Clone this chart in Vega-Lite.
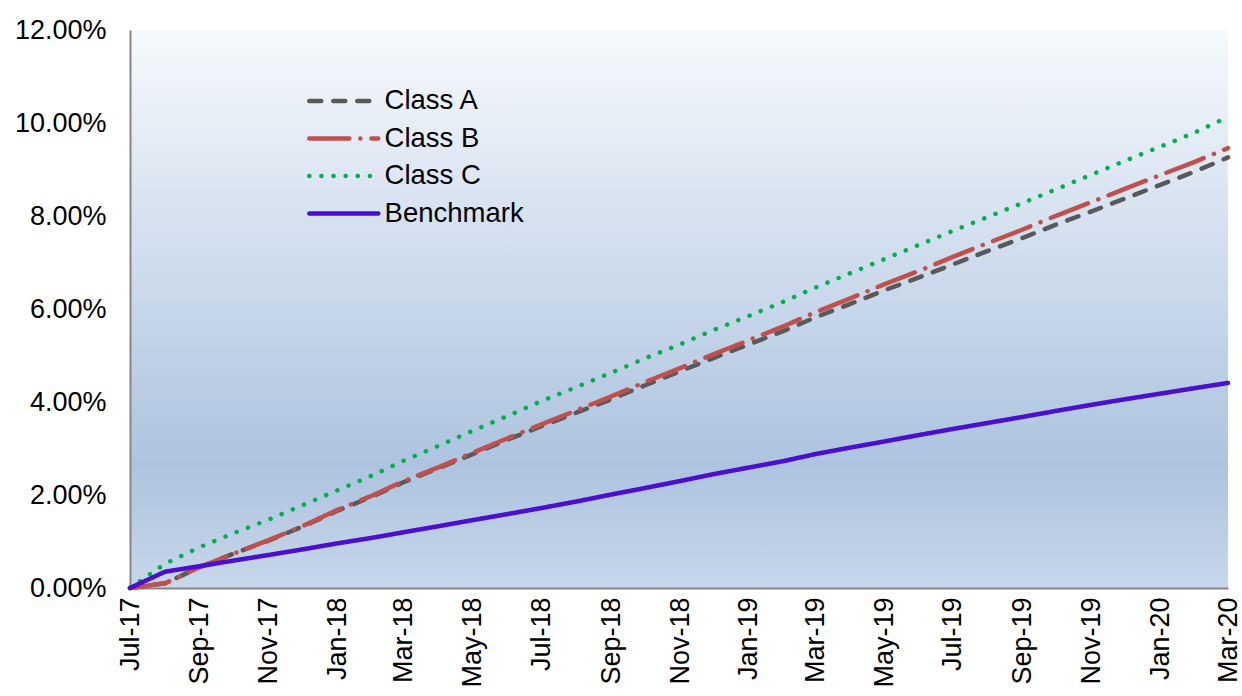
{
  "$schema": "https://vega.github.io/schema/vega-lite/v6.json",
  "width": 1098,
  "height": 558,
  "autosize": "none",
  "padding": {"left": 130, "top": 30, "right": 14, "bottom": 108},
  "background": "white",
  "config": {
    "font": "Liberation Sans",
    "view": {
      "stroke": null,
      "fill": {
        "gradient": "linear", "x1": 0, "y1": 0, "x2": 0, "y2": 1,
        "stops": [
          {"offset": 0, "color": "#f6f9fc"},
          {"offset": 0.78, "color": "#adc3df"},
          {"offset": 1, "color": "#c8d7ea"}
        ]
      }
    },
    "axis": {
      "domainColor": "#868686", "domainWidth": 2, "ticks": false, "grid": false,
      "labelFont": "Liberation Sans", "labelFontSize": 27, "labelColor": "#000000", "title": null
    }
  },
  "datasets": {
    "series": [
      {"date":"2017-07-01","s":"Class A","v":0},{"date":"2017-08-01","s":"Class A","v":0.0010},{"date":"2017-09-01","s":"Class A","v":0.0045},{"date":"2017-10-01","s":"Class A","v":0.0074},{"date":"2017-11-01","s":"Class A","v":0.0102},{"date":"2017-12-01","s":"Class A","v":0.0132},{"date":"2018-01-01","s":"Class A","v":0.0166},{"date":"2018-02-01","s":"Class A","v":0.0197},{"date":"2018-03-01","s":"Class A","v":0.0228},{"date":"2018-04-01","s":"Class A","v":0.0258},{"date":"2018-05-01","s":"Class A","v":0.0288},{"date":"2018-06-01","s":"Class A","v":0.0319},{"date":"2018-07-01","s":"Class A","v":0.0348},{"date":"2018-08-01","s":"Class A","v":0.0377},{"date":"2018-09-01","s":"Class A","v":0.0406},{"date":"2018-10-01","s":"Class A","v":0.0436},{"date":"2018-11-01","s":"Class A","v":0.0466},{"date":"2018-12-01","s":"Class A","v":0.0495},{"date":"2019-01-01","s":"Class A","v":0.0524},{"date":"2019-02-01","s":"Class A","v":0.0553},{"date":"2019-03-01","s":"Class A","v":0.0582},{"date":"2019-04-01","s":"Class A","v":0.0611},{"date":"2019-05-01","s":"Class A","v":0.0640},{"date":"2019-06-01","s":"Class A","v":0.0668},{"date":"2019-07-01","s":"Class A","v":0.0696},{"date":"2019-08-01","s":"Class A","v":0.0725},{"date":"2019-09-01","s":"Class A","v":0.0753},{"date":"2019-10-01","s":"Class A","v":0.0782},{"date":"2019-11-01","s":"Class A","v":0.0810},{"date":"2019-12-01","s":"Class A","v":0.0838},{"date":"2020-01-01","s":"Class A","v":0.0867},{"date":"2020-02-01","s":"Class A","v":0.0896},{"date":"2020-03-01","s":"Class A","v":0.0926},
      {"date":"2017-07-01","s":"Class B","v":0},{"date":"2017-08-01","s":"Class B","v":0.0010},{"date":"2017-09-01","s":"Class B","v":0.0045},{"date":"2017-10-01","s":"Class B","v":0.0074},{"date":"2017-11-01","s":"Class B","v":0.0103},{"date":"2017-12-01","s":"Class B","v":0.0133},{"date":"2018-01-01","s":"Class B","v":0.0168},{"date":"2018-02-01","s":"Class B","v":0.0199},{"date":"2018-03-01","s":"Class B","v":0.0230},{"date":"2018-04-01","s":"Class B","v":0.0260},{"date":"2018-05-01","s":"Class B","v":0.0291},{"date":"2018-06-01","s":"Class B","v":0.0322},{"date":"2018-07-01","s":"Class B","v":0.0352},{"date":"2018-08-01","s":"Class B","v":0.0382},{"date":"2018-09-01","s":"Class B","v":0.0412},{"date":"2018-10-01","s":"Class B","v":0.0443},{"date":"2018-11-01","s":"Class B","v":0.0473},{"date":"2018-12-01","s":"Class B","v":0.0503},{"date":"2019-01-01","s":"Class B","v":0.0533},{"date":"2019-02-01","s":"Class B","v":0.0563},{"date":"2019-03-01","s":"Class B","v":0.0593},{"date":"2019-04-01","s":"Class B","v":0.0623},{"date":"2019-05-01","s":"Class B","v":0.0653},{"date":"2019-06-01","s":"Class B","v":0.0682},{"date":"2019-07-01","s":"Class B","v":0.0712},{"date":"2019-08-01","s":"Class B","v":0.0742},{"date":"2019-09-01","s":"Class B","v":0.0771},{"date":"2019-10-01","s":"Class B","v":0.0801},{"date":"2019-11-01","s":"Class B","v":0.0830},{"date":"2019-12-01","s":"Class B","v":0.0859},{"date":"2020-01-01","s":"Class B","v":0.0888},{"date":"2020-02-01","s":"Class B","v":0.0917},{"date":"2020-03-01","s":"Class B","v":0.0946},
      {"date":"2017-07-01","s":"Class C","v":0},{"date":"2017-08-01","s":"Class C","v":0.0052},{"date":"2017-09-01","s":"Class C","v":0.0088},{"date":"2017-10-01","s":"Class C","v":0.0118},{"date":"2017-11-01","s":"Class C","v":0.0147},{"date":"2017-12-01","s":"Class C","v":0.0178},{"date":"2018-01-01","s":"Class C","v":0.0210},{"date":"2018-02-01","s":"Class C","v":0.0242},{"date":"2018-03-01","s":"Class C","v":0.0274},{"date":"2018-04-01","s":"Class C","v":0.0306},{"date":"2018-05-01","s":"Class C","v":0.0338},{"date":"2018-06-01","s":"Class C","v":0.0370},{"date":"2018-07-01","s":"Class C","v":0.0402},{"date":"2018-08-01","s":"Class C","v":0.0432},{"date":"2018-09-01","s":"Class C","v":0.0463},{"date":"2018-10-01","s":"Class C","v":0.0494},{"date":"2018-11-01","s":"Class C","v":0.0524},{"date":"2018-12-01","s":"Class C","v":0.0555},{"date":"2019-01-01","s":"Class C","v":0.0585},{"date":"2019-02-01","s":"Class C","v":0.0616},{"date":"2019-03-01","s":"Class C","v":0.0646},{"date":"2019-04-01","s":"Class C","v":0.0677},{"date":"2019-05-01","s":"Class C","v":0.0707},{"date":"2019-06-01","s":"Class C","v":0.0738},{"date":"2019-07-01","s":"Class C","v":0.0768},{"date":"2019-08-01","s":"Class C","v":0.0798},{"date":"2019-09-01","s":"Class C","v":0.0828},{"date":"2019-10-01","s":"Class C","v":0.0858},{"date":"2019-11-01","s":"Class C","v":0.0889},{"date":"2019-12-01","s":"Class C","v":0.0919},{"date":"2020-01-01","s":"Class C","v":0.0949},{"date":"2020-02-01","s":"Class C","v":0.0980},{"date":"2020-03-01","s":"Class C","v":0.1013},
      {"date":"2017-07-01","s":"Benchmark","v":0},{"date":"2017-08-01","s":"Benchmark","v":0.0035},{"date":"2017-09-01","s":"Benchmark","v":0.0047},{"date":"2017-10-01","s":"Benchmark","v":0.0059},{"date":"2017-11-01","s":"Benchmark","v":0.0071},{"date":"2017-12-01","s":"Benchmark","v":0.0083},{"date":"2018-01-01","s":"Benchmark","v":0.0096},{"date":"2018-02-01","s":"Benchmark","v":0.0108},{"date":"2018-03-01","s":"Benchmark","v":0.0120},{"date":"2018-04-01","s":"Benchmark","v":0.0133},{"date":"2018-05-01","s":"Benchmark","v":0.0146},{"date":"2018-06-01","s":"Benchmark","v":0.0159},{"date":"2018-07-01","s":"Benchmark","v":0.0172},{"date":"2018-08-01","s":"Benchmark","v":0.0186},{"date":"2018-09-01","s":"Benchmark","v":0.0201},{"date":"2018-10-01","s":"Benchmark","v":0.0215},{"date":"2018-11-01","s":"Benchmark","v":0.0230},{"date":"2018-12-01","s":"Benchmark","v":0.0245},{"date":"2019-01-01","s":"Benchmark","v":0.0259},{"date":"2019-02-01","s":"Benchmark","v":0.0273},{"date":"2019-03-01","s":"Benchmark","v":0.0288},{"date":"2019-04-01","s":"Benchmark","v":0.0302},{"date":"2019-05-01","s":"Benchmark","v":0.0315},{"date":"2019-06-01","s":"Benchmark","v":0.0329},{"date":"2019-07-01","s":"Benchmark","v":0.0342},{"date":"2019-08-01","s":"Benchmark","v":0.0355},{"date":"2019-09-01","s":"Benchmark","v":0.0368},{"date":"2019-10-01","s":"Benchmark","v":0.0381},{"date":"2019-11-01","s":"Benchmark","v":0.0394},{"date":"2019-12-01","s":"Benchmark","v":0.0406},{"date":"2020-01-01","s":"Benchmark","v":0.0418},{"date":"2020-02-01","s":"Benchmark","v":0.0430},{"date":"2020-03-01","s":"Benchmark","v":0.0441}
    ]
  },
  "data": {"name": "series"},
  "mark": {"type": "line", "strokeWidth": 4.5, "strokeCap": "round", "strokeJoin": "round"},
  "encoding": {
    "x": {
      "field": "date", "type": "temporal",
      "scale": {"type": "utc", "domain": [{"year": 2017, "month": 7, "date": 1, "utc": true}, {"year": 2020, "month": 3, "date": 1, "utc": true}], "nice": false},
      "axis": {
        "values": [
          {"year": 2017, "month": 7, "date": 1, "utc": true},
          {"year": 2017, "month": 9, "date": 1, "utc": true},
          {"year": 2017, "month": 11, "date": 1, "utc": true},
          {"year": 2018, "month": 1, "date": 1, "utc": true},
          {"year": 2018, "month": 3, "date": 1, "utc": true},
          {"year": 2018, "month": 5, "date": 1, "utc": true},
          {"year": 2018, "month": 7, "date": 1, "utc": true},
          {"year": 2018, "month": 9, "date": 1, "utc": true},
          {"year": 2018, "month": 11, "date": 1, "utc": true},
          {"year": 2019, "month": 1, "date": 1, "utc": true},
          {"year": 2019, "month": 3, "date": 1, "utc": true},
          {"year": 2019, "month": 5, "date": 1, "utc": true},
          {"year": 2019, "month": 7, "date": 1, "utc": true},
          {"year": 2019, "month": 9, "date": 1, "utc": true},
          {"year": 2019, "month": 11, "date": 1, "utc": true},
          {"year": 2020, "month": 1, "date": 1, "utc": true},
          {"year": 2020, "month": 3, "date": 1, "utc": true}
        ],
        "labelExpr": "utcFormat(datum.value, '%b-%y')",
        "labelAngle": 270, "labelPadding": 9, "labelOverlap": false, "labelBound": false, "labelFlush": false
      }
    },
    "y": {
      "field": "v", "type": "quantitative",
      "scale": {"domain": [0, 0.12], "nice": false},
      "axis": {"values": [0, 0.02, 0.04, 0.06, 0.08, 0.1, 0.12], "format": ".2%", "labelPadding": 24}
    },
    "color": {
      "field": "s", "type": "nominal",
      "scale": {"domain": ["Class A", "Class B", "Class C", "Benchmark"], "range": ["#595959", "#c0504d", "#00b050", "#4a0fd0"]},
      "legend": {
        "title": null, "orient": "none", "legendX": 195.6, "legendY": 50,
        "symbolType": "M-2,0H1.7", "symbolSize": 1391, "symbolStrokeWidth": 4.5,
        "labelFont": "Liberation Sans", "labelFontSize": 27.5, "labelColor": "#000000", "labelOffset": 17,
        "rowPadding": 2.5, "padding": 0,
        "encode": {"symbols": {"update": {"strokeCap": {"value": "round"}}}}
      }
    },
    "strokeDash": {
      "field": "s", "type": "nominal",
      "scale": {"domain": ["Class A", "Class B", "Class C", "Benchmark"], "range": [[12, 12], [40, 11, 0.1, 11], [0.1, 12], [1, 0]]},
      "legend": null
    },
    "order": {"value": 0}
  }
}
